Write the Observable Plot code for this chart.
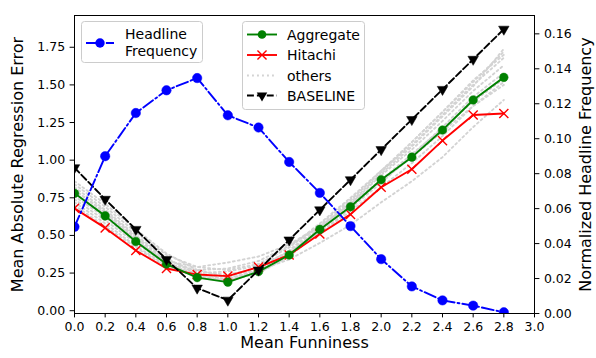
<!DOCTYPE html>
<html>
<head>
<meta charset="utf-8">
<script src="https://cdn.jsdelivr.net/npm/d3@7"></script>
<script src="https://cdn.jsdelivr.net/npm/@observablehq/plot@0.6"></script>
<style>
  html, body { margin: 0; padding: 0; background: #fff; }
  #chart { width: 596px; height: 358px; }
</style>
</head>
<body>
<div id="chart"></div>
<script>
// ---- data ----
const funniness = [0.0, 0.2, 0.4, 0.6, 0.8, 1.0, 1.2, 1.4, 1.6, 1.8, 2.0, 2.2, 2.4, 2.6, 2.8];
const headlineFrequency = [0.0496, 0.0900, 0.1147, 0.1277, 0.1347, 0.1134, 0.1064, 0.0867, 0.0690, 0.0500, 0.0311, 0.0155, 0.0075, 0.0045, 0.0007];
const aggregate = [0.78, 0.63, 0.46, 0.31, 0.22, 0.19, 0.26, 0.37, 0.54, 0.69, 0.87, 1.02, 1.20, 1.40, 1.55];
const hitachi   = [0.68, 0.55, 0.40, 0.28, 0.24, 0.23, 0.29, 0.37, 0.51, 0.64, 0.82, 0.94, 1.13, 1.30, 1.31];
const baseline  = [0.95, 0.74, 0.54, 0.34, 0.15, 0.07, 0.27, 0.47, 0.67, 0.87, 1.07, 1.27, 1.47, 1.67, 1.87];
const others1  = [0.84, 0.69, 0.52, 0.37, 0.29, 0.27, 0.31, 0.42, 0.58, 0.75, 0.93, 1.10, 1.30, 1.50, 1.68];
const others2  = [0.80, 0.66, 0.49, 0.34, 0.26, 0.24, 0.28, 0.40, 0.57, 0.74, 0.92, 1.12, 1.32, 1.52, 1.72];
const others3  = [0.76, 0.62, 0.46, 0.33, 0.29, 0.32, 0.36, 0.44, 0.56, 0.70, 0.86, 1.02, 1.19, 1.36, 1.52];
const others4  = [0.72, 0.58, 0.43, 0.30, 0.25, 0.26, 0.30, 0.39, 0.52, 0.66, 0.82, 0.98, 1.16, 1.36, 1.50];
const others5  = [0.82, 0.67, 0.50, 0.35, 0.24, 0.21, 0.27, 0.39, 0.55, 0.71, 0.90, 1.07, 1.26, 1.46, 1.63];
const others6  = [0.70, 0.56, 0.42, 0.29, 0.23, 0.23, 0.27, 0.34, 0.45, 0.57, 0.72, 0.86, 1.02, 1.22, 1.40];
const others7  = [0.86, 0.71, 0.54, 0.38, 0.27, 0.22, 0.25, 0.36, 0.53, 0.72, 0.91, 1.09, 1.29, 1.49, 1.74];
const others8  = [0.78, 0.64, 0.47, 0.32, 0.23, 0.20, 0.25, 0.37, 0.52, 0.68, 0.85, 1.03, 1.22, 1.42, 1.58];
const others9  = [0.74, 0.60, 0.45, 0.31, 0.27, 0.28, 0.33, 0.43, 0.56, 0.71, 0.87, 1.04, 1.21, 1.39, 1.54];
const others10 = [0.80, 0.65, 0.48, 0.33, 0.22, 0.20, 0.26, 0.38, 0.55, 0.73, 0.93, 1.12, 1.32, 1.53, 1.70];
const othersAll = [others1, others2, others3, others4, others5, others6, others7, others8, others9, others10];

const xTicks = [0.0, 0.2, 0.4, 0.6, 0.8, 1.0, 1.2, 1.4, 1.6, 1.8, 2.0, 2.2, 2.4, 2.6, 2.8, 3.0];
const leftTicks = [0.00, 0.25, 0.50, 0.75, 1.00, 1.25, 1.50, 1.75];
const rightTicks = [0.00, 0.02, 0.04, 0.06, 0.08, 0.10, 0.12, 0.14, 0.16];

const xDomain = [0, 3];
const leftDomain = [-0.0186, 1.961];
const rightDomain = [0, 0.1705];

// map right-axis values onto the left scale domain
const toLeft = r => leftDomain[0] + (r - rightDomain[0]) / (rightDomain[1] - rightDomain[0]) * (leftDomain[1] - leftDomain[0]);
const fromLeft = v => rightDomain[0] + (v - leftDomain[0]) / (leftDomain[1] - leftDomain[0]) * (rightDomain[1] - rightDomain[0]);

const table = (ys) => funniness.map((x, i) => ({x, y: ys[i]}));
const aggData = table(aggregate);
const hitData = table(hitachi);
const baseData = table(baseline);
const headData = funniness.map((x, i) => ({x, y: toLeft(headlineFrequency[i])}));
const othersData = othersAll.flatMap((s, k) => funniness.map((x, i) => ({x, y: s[i], k})));

const LW = 1.9;
const FONT = "DejaVu Sans, sans-serif";

const chart = Plot.plot({
  width: 596,
  height: 358,
  marginLeft: 74,
  marginRight: 62,
  marginTop: 15,
  marginBottom: 45,
  style: {fontFamily: FONT, fontSize: "12.5px", color: "#000", background: "#fff", overflow: "visible"},
  x: {domain: xDomain},
  y: {domain: leftDomain},
  marks: [
    Plot.line(othersData, {x: "x", y: "y", z: "k", stroke: "#d3d3d3", strokeWidth: LW, strokeDasharray: "1.9,3.1", clip: true}),
    Plot.line(hitData, {x: "x", y: "y", stroke: "#ff0000", strokeWidth: LW, clip: true}),
    Plot.dot(hitData, {x: "x", y: "y", symbol: "times", r: 4.2, stroke: "#ff0000", strokeWidth: 1.4, clip: true}),
    Plot.line(aggData, {x: "x", y: "y", stroke: "#008000", strokeWidth: LW, clip: true}),
    Plot.dot(aggData, {x: "x", y: "y", r: 4.3, fill: "#008000", stroke: "#008000", strokeWidth: 0.5, clip: true}),
    Plot.line(baseData, {x: "x", y: "y", stroke: "#000", strokeWidth: LW, strokeDasharray: "6.9,3", clip: true}),
    Plot.dot(baseData, {x: "x", y: "y", symbol: "triangle", rotate: 180, r: 3.9, fill: "#000", stroke: "#000", strokeWidth: 0.5, clip: true}),
    Plot.line(headData, {x: "x", y: "y", stroke: "#0000ff", strokeWidth: LW, strokeDasharray: "12,3,1.9,3", clip: true}),
    Plot.dot(headData, {x: "x", y: "y", r: 4.7, fill: "#0000ff", stroke: "#0000ff", strokeWidth: 0.5, clip: true}),
    Plot.frame({stroke: "#000", strokeWidth: 1}),
    Plot.axisX({ticks: xTicks, tickFormat: d => d.toFixed(1), tickSize: 4.4, tickPadding: 4, fontSize: 12.5, label: null}),
    Plot.axisY({ticks: leftTicks, tickFormat: d => d.toFixed(2), tickSize: 4.4, tickPadding: 5, fontSize: 12.5, label: null}),
    Plot.axisY({anchor: "right", ticks: rightTicks.map(toLeft), tickFormat: d => fromLeft(d).toFixed(2), tickSize: 4.4, tickPadding: 5, fontSize: 12.5, label: null}),
    Plot.text(["Mean Funniness"], {frameAnchor: "bottom", dy: 34, fontSize: 16, fill: "#000", textAnchor: "middle"}),
    Plot.text(["Mean Absolute Regression Error"], {frameAnchor: "left", dx: -57, rotate: -90, fontSize: 16, fill: "#000", textAnchor: "middle"}),
    Plot.text(["Normalized Headline Frequency"], {frameAnchor: "right", dx: 51, rotate: -90, fontSize: 16, fill: "#000", textAnchor: "middle"})
  ]
});

document.getElementById("chart").appendChild(chart);

// ---- legends (drawn on top, matplotlib style) ----
const svg = d3.select(chart);
function legendBox(g, x, y, w, h) {
  g.append("rect").attr("x", x).attr("y", y).attr("width", w).attr("height", h)
    .attr("rx", 3).attr("fill", "#fff").attr("fill-opacity", 0.8)
    .attr("stroke", "#cccccc").attr("stroke-width", 1);
}
function handleLine(g, x1, x2, y, color, dash) {
  g.append("line").attr("x1", x1).attr("x2", x2).attr("y1", y).attr("y2", y)
    .attr("stroke", color).attr("stroke-width", LW).attr("stroke-dasharray", dash || null);
}
const sym = (type, size) => d3.symbol().type(type).size(size)();

// legend 1: Headline Frequency
const g1 = svg.append("g").attr("font-family", FONT).attr("font-size", 14).attr("text-anchor", "start");
legendBox(g1, 81.5, 21.5, 121, 41);
handleLine(g1, 86, 114, 43, "#0000ff", "12,3,1.9,3");
g1.append("circle").attr("cx", 100).attr("cy", 43).attr("r", 4.7).attr("fill", "#0000ff");
g1.append("text").attr("x", 125).attr("y", 38.5).attr("text-anchor", "start").text("Headline").attr("fill", "#000");
g1.append("text").attr("x", 125).attr("y", 55.5).attr("text-anchor", "start").text("Frequency").attr("fill", "#000");

// legend 2
const g2 = svg.append("g").attr("font-family", FONT).attr("font-size", 14).attr("text-anchor", "start");
legendBox(g2, 242.5, 21.5, 122, 88);
const rows = [34.5, 55, 75.5, 95.5];
handleLine(g2, 247, 277, rows[0], "#008000");
g2.append("circle").attr("cx", 262).attr("cy", rows[0]).attr("r", 4.3).attr("fill", "#008000");
handleLine(g2, 247, 277, rows[1], "#ff0000");
g2.append("path").attr("d", sym(d3.symbolTimes, Math.PI * 4.2 * 4.2)).attr("transform", `translate(262,${rows[1]})`)
  .attr("stroke", "#ff0000").attr("stroke-width", 1.4).attr("fill", "none");
handleLine(g2, 247, 277, rows[2], "#d3d3d3", "1.9,3.1");
handleLine(g2, 247, 277, rows[3], "#000", "6.9,3");
g2.append("path").attr("d", sym(d3.symbolTriangle, Math.PI * 3.9 * 3.9)).attr("transform", `translate(262,${rows[3]}) rotate(180)`)
  .attr("fill", "#000");
["Aggregate", "Hitachi", "others", "BASELINE"].forEach((t, i) => {
  g2.append("text").attr("x", 287).attr("y", rows[i] + 5).attr("text-anchor", "start").text(t).attr("fill", "#000");
});
</script>
</body>
</html>
